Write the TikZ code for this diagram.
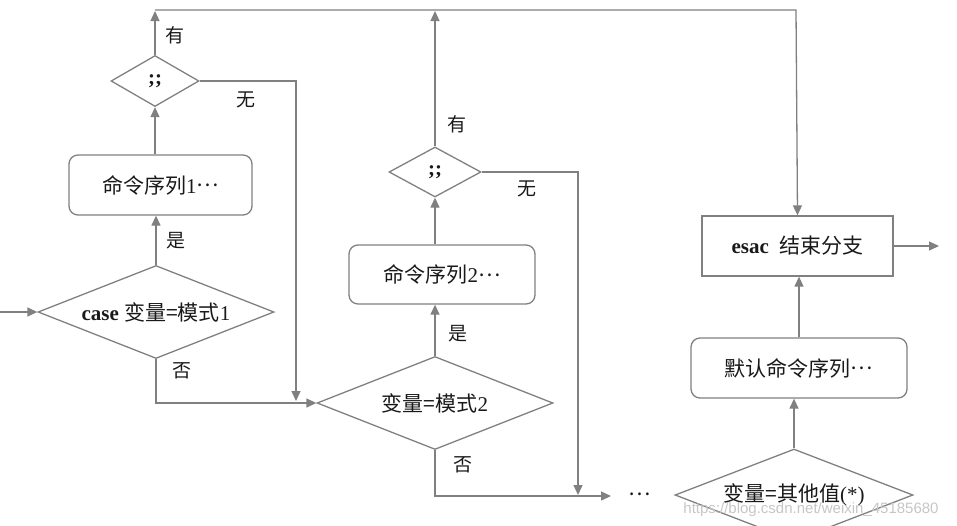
\documentclass[tikz,border=0pt]{standalone}
\usepackage{fontspec}
\setmainfont{Liberation Serif}
\newfontfamily\cjk{Noto Sans CJK SC}
\newfontfamily\wmfont{Liberation Sans}
\usetikzlibrary{shapes.geometric,arrows.meta}
\definecolor{ln}{RGB}{128,128,128}
\definecolor{tx}{RGB}{25,25,25}
\newcommand{\zhtxt}[1]{{\cjk #1}}
\newcommand{\cdotsx}{\raisebox{0.3em}{\cjk …}}
\begin{document}
\begin{tikzpicture}[x=1pt,y=-1pt,
  every node/.style={text=tx, font=\fontsize{21}{24}\selectfont},
  dia/.style={diamond, draw=ln, line width=1.3pt, inner sep=0pt},
  rbox/.style={rectangle, rounded corners=9pt, draw=ln, line width=1.3pt, inner sep=0pt},
  sbox/.style={rectangle, draw=ln, line width=1.3pt, inner sep=0pt},
  conn/.style={draw=ln, line width=1.3pt, -{Triangle[length=10pt,width=9pt]}},
  lab/.style={font=\fontsize{19}{22}\selectfont\cjk}
]
\useasboundingbox (0,0) rectangle (957,525);
\clip (0,0) rectangle (957,525);

% nodes
\node[dia, aspect=2.55, minimum width=236pt, minimum height=93pt] (d1) at (156,312) {\textbf{case}\ \zhtxt{变量=模式}1};
\node[rbox, minimum width=183pt, minimum height=60pt] (b1) at (160.5,185) {\zhtxt{命令序列}1\cdotsx};
\node[dia, aspect=1.75, minimum width=88pt, minimum height=51pt] (s1) at (155,81) {\textbf{;;}};
\node[dia, aspect=2.55, minimum width=236pt, minimum height=93pt] (d2) at (435,403) {\zhtxt{变量=模式}2};
\node[rbox, minimum width=186pt, minimum height=59pt] (b2) at (442,274.5) {\zhtxt{命令序列}2\cdotsx};
\node[dia, aspect=1.85, minimum width=92pt, minimum height=50pt] (s2) at (435,172) {\textbf{;;}};
\node[dia, aspect=2.6, minimum width=238pt, minimum height=92pt] (d3) at (794,495) {\zhtxt{变量=其他值}(*)};
\node[rbox, minimum width=216pt, minimum height=60pt] (bd) at (799,368) {\zhtxt{默认命令序列}\cdotsx};
\node[sbox, minimum width=191pt, minimum height=60pt] (be) at (797.5,246) {\textbf{esac}\ \ \zhtxt{结束分支}};
\node (dots) at (640,497) {\cdotsx};

% coordinates
\coordinate (in) at (0,312);
\coordinate (top1) at (155,11);
\coordinate (top2) at (435,11);
\coordinate (topR) at (796,10);
\coordinate (j1) at (296,401);
\coordinate (j2) at (578,495);
\coordinate (e2) at (611,496);
\coordinate (out) at (939,246);

% connectors
\draw[conn] (in) -- (d1.west);
\draw[conn] (d1.north) -- (d1.north |- b1.south);
\draw[conn] (s1.south |- b1.north) -- (s1.south);
\draw[conn] (s1.north) -- (top1);
\draw[conn] (top1 |- topR) -- (topR) -- (be.north);
\draw[conn] (s1.east) -| (j1);
\draw[conn] (d1.south) |- (d2.west);
\draw[conn] (d2.north) -- (d2.north |- b2.south);
\draw[conn] (s2.south |- b2.north) -- (s2.south);
\draw[conn] (s2.north) -- (top2);
\draw[conn] (s2.east) -| (j2);
\draw[conn] (d2.south) |- (e2);
\draw[conn] (d3.north) -- (d3.north |- bd.south);
\draw[conn] (bd.north) -- (bd.north |- be.south);
\draw[conn] (be.east) -- (out);

% labels
\node[lab] (l1) at (175,35) {有};
\node[lab] (l2) at (246,100) {无};
\node[lab] (l3) at (176,241) {是};
\node[lab] (l4) at (182,371) {否};
\node[lab] (l5) at (457,124) {有};
\node[lab] (l6) at (527,189) {无};
\node[lab] (l7) at (458,334) {是};
\node[lab] (l8) at (463,465) {否};

% watermark
\node[text=gray!45, font=\wmfont\fontsize{15}{18}\selectfont] (wm) at (811,510) {https://blog.csdn.net/weixin\_45185680};
\end{tikzpicture}
\end{document}
